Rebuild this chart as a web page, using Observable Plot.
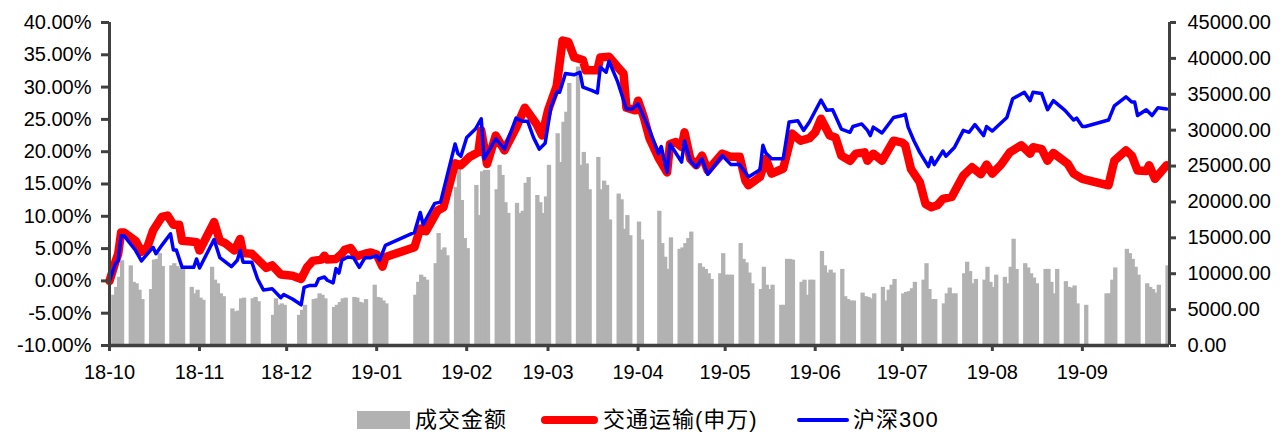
<!DOCTYPE html>
<html><head><meta charset="utf-8">
<script src="https://cdn.jsdelivr.net/npm/d3@7"></script>
<script src="https://cdn.jsdelivr.net/npm/@observablehq/plot@0.6"></script>
<style>
html,body{margin:0;padding:0;background:#fff;}
#wrap{position:relative;width:1287px;height:434px;overflow:hidden;font-family:"Liberation Sans",Arial,sans-serif;}
#legend{position:absolute;left:0;top:0;width:1287px;height:434px;pointer-events:none;font-family:"Liberation Sans","Noto Sans CJK SC",sans-serif;font-size:22px;letter-spacing:1px;color:#000;}
#legend .sw{position:absolute;}
#legend .tx{position:absolute;top:406px;line-height:28px;white-space:nowrap;}
</style>
</head><body>
<div id="wrap"><div id="chart"></div><div id="legend"></div></div>
<script>
// ---------- data ----------
const START = "2018-10-01";               // day 0 of the date axis
const END_DAY = 365;                      // axis end (days after START)
const xTickLabels = ["18-10","18-11","18-12","19-01","19-02","19-03","19-04","19-05","19-06","19-07","19-08","19-09"];
const pctTicks = [-10,-5,0,5,10,15,20,25,30,35,40];
const volTicks = [0,5000,10000,15000,20000,25000,30000,35000,40000,45000];
const seriesNames = ["成交金额","交通运输(申万)","沪深300"];

// 成交金额: one row per week (Mon..Fri), week k starts START + 7k days; null = no trading
const volByWeek = [
 [null,7000,8100,9500,11800],
 [11100,8800,8600,7700,6400],
 [7800,11900,12000,12800,11000],
 [11100,11400,11000,10700,10700],
 [8100,7200,7700,6600,6300],
 [10900,9100,8600,7200,6800],
 [5100,4700,4800,6500,6600],
 [6500,6700,6100,null,null],
 [4200,6500,5600,5800,5600],
 [null,null,4200,4900,5600],
 [6400,6500,7200,7000,6500],
 [5300,5600,6000,6500,6600],
 [6700,6600,6000,5900,6400],
 [8400,6700,6600,6200,5800],
 [],
 [7000,8800,9800,9500,9100],
 [11400,15600,13300,13600,12500],
 [22000,24800,20200,14900,13500],
 [22300,18100,24200,24400,24400],
 [21700,25100,23700,19900,18400],
 [19800,18400,18700,22600,23400],
 [20900,19900,18400,20700,25100],
 [29500,25500,31100,32500,36500],
 [38800,25100,26900,25300,21700],
 [26200,21700,22900,22300,17500],
 [21100,20300,16200,18100,15300],
 [17200,14700],
 [18700,14200,12300,10600,15000],
 [13400,13600,14200,14900,15800],
 [11400,10900,10600,10000,9200],
 [10000,12800,9800,9800,9800],
 [14200,12000,11500,10100,8600],
 [7800,10900,8400,7800,8400],
 [5600,5600,12000,12000,11900],
 [8800,9100,7000,9100,9100],
 [13100,11100,10100,10500,10100],
 [10600,6800,6400,6200,6200],
 [7300,6800,6700,6500,7200],
 [8100,6200,7700,8400,9200],
 [7200,7400,7500,7900,8800],
 [9100,11400,7800,6400,6400],
 [5800,7200,8000,7200,7200],
 [10000,11600,10300,8600,9200],
 [9100,10900,8800,8100,9800],
 [9500,8600,10900,14800,10600],
 [11400,10800,10000,9400,8600],
 [10600,10600,8800,7200,10600],
 [8900,8100,8000,8300,5800],
 [5600],
 [7200,7200,9100,10800],
 [13400,12800,12000,10900,9800],
 [8600,8100,7800,7300,8400],
 [11100]
];

// 交通运输(申万): [day after START, cumulative %]
const jtys = [[0,0],[2,2.9],[3,4.2],[4,7.5],[5,7.5],[9,6.2],[11,4.5],[13,5.2],[15,7.8],[18,9.9],[20,10.1],[22,8.7],[24,8.7],[25,6.2],[28,6.1],[30,6.0],[31,4.7],[36,9.1],[38,6.2],[40,5.8],[43,4.7],[45,6.5],[46,4.3],[49,4.2],[54,2.0],[56,2.4],[59,1.0],[63,0.8],[66,0.3],[68,2.1],[70,3.1],[73,3.3],[74,3.9],[75,3.3],[78,3.4],[80,4.2],[81,4.8],[83,5.1],[85,3.8],[88,4.2],[90,4.4],[92,4.1],[94,2.2],[95,3.7],[105,5.2],[107,8.1],[109,7.7],[113,10.9],[115,11.4],[119,18.2],[121,17.9],[124,19.2],[127,19.9],[128,23.3],[130,18.1],[133,22.5],[136,20.2],[140,23.7],[143,26.8],[147,24.3],[149,22.5],[151,26.4],[154,30.2],[156,37.2],[158,37.0],[160,34.6],[163,34.2],[164,32.6],[168,32.6],[169,34.6],[172,34.7],[175,33.1],[177,32.1],[178,26.8],[181,26.4],[182,27.9],[184,25.3],[186,22.0],[189,19.1],[192,16.8],[193,21.2],[195,21.5],[197,20.7],[198,23.0],[200,18.9],[202,17.9],[204,19.4],[206,17.1],[211,19.7],[214,19.2],[217,19.2],[219,15.5],[220,14.8],[224,16.1],[226,18.9],[228,16.6],[232,17.4],[235,22.8],[238,21.7],[241,22.1],[243,23.0],[245,25.1],[248,22.5],[250,22.2],[252,19.4],[255,18.6],[257,19.7],[260,19.9],[261,18.6],[263,19.7],[266,18.6],[270,21.7],[273,21.4],[274,21.0],[276,17.3],[279,15.3],[281,11.9],[283,11.4],[285,11.7],[287,12.7],[290,13.0],[294,16.3],[297,17.6],[300,16.5],[302,18.0],[304,16.6],[307,18.0],[310,19.9],[314,21.0],[317,19.7],[318,20.7],[321,20.4],[323,18.6],[325,19.8],[330,18.1],[332,16.6],[335,15.8],[344,14.8],[346,18.6],[350,20.2],[352,19.4],[354,17.1],[357,17.0],[358,17.9],[360,15.8],[364,17.9]];

// 沪深300: [day after START, cumulative %]
const hs300 = [[0,0],[2,2.6],[3,3.2],[4,7.0],[5,7.0],[9,4.7],[11,3.1],[14,4.7],[15,5.2],[16,4.2],[18,5.5],[21,7.3],[22,4.8],[23,4.8],[25,2.1],[29,2.1],[30,3.4],[31,2.0],[36,6.4],[38,3.6],[42,2.2],[44,3.2],[45,4.7],[46,2.9],[49,2.9],[51,0.3],[53,-1.4],[56,-1.2],[59,-2.6],[60,-2.1],[63,-2.8],[66,-3.7],[67,-1.0],[69,-0.7],[71,-0.7],[72,0.3],[74,0.6],[75,0.1],[77,-0.3],[78,1.9],[79,1.2],[80,3.2],[82,3.7],[84,3.6],[86,2.1],[88,3.6],[90,3.6],[92,3.9],[93,3.2],[95,5.5],[105,7.5],[107,10.6],[108,8.7],[112,12.0],[114,12.2],[119,21.2],[120,19.7],[121,19.3],[123,22.2],[126,23.5],[128,25.1],[129,18.9],[133,22.0],[136,20.4],[140,25.2],[142,24.7],[144,24.7],[146,22.2],[148,20.4],[150,21.3],[152,26.9],[154,29.2],[155,29.2],[157,32.1],[160,31.9],[162,32.3],[163,30.0],[166,29.5],[168,29.1],[169,33.1],[171,32.3],[172,34.0],[175,30.8],[178,26.6],[180,26.6],[182,27.4],[186,23.3],[189,19.7],[190,20.8],[192,16.8],[193,21.2],[197,18.4],[198,21.7],[200,18.6],[202,17.6],[204,18.9],[206,16.5],[211,19.4],[214,18.0],[217,18.0],[220,16.1],[224,17.2],[225,21.0],[226,19.8],[228,18.9],[232,18.9],[234,24.6],[237,24.8],[239,23.3],[241,24.6],[245,28.0],[247,26.4],[249,26.5],[252,23.5],[255,23.0],[256,23.9],[259,24.3],[261,23.3],[262,22.5],[263,23.8],[266,22.9],[270,25.3],[273,25.6],[274,25.8],[275,23.8],[277,21.7],[279,19.9],[282,17.7],[283,19.1],[284,18.0],[287,20.1],[288,19.3],[291,20.7],[294,23.3],[296,23.0],[298,24.2],[301,22.5],[302,23.9],[304,23.2],[309,25.3],[311,28.2],[315,29.2],[317,27.9],[318,29.2],[321,29.0],[323,26.5],[325,27.9],[329,26.4],[332,24.9],[333,25.2],[335,23.9],[336,23.9],[344,24.9],[346,27.1],[350,28.5],[352,27.7],[353,27.7],[354,25.6],[357,26.5],[359,25.6],[361,26.8],[364,26.6]];

// ---------- build ----------
const t0 = d3.utcParse("%Y-%m-%d")(START);
const day = d => d3.utcDay.offset(t0, d);
const PMIN = pctTicks[0], PMAX = pctTicks[pctTicks.length-1];
const VMAX = volTicks[volTicks.length-1];
const volToPct = v => PMIN + v / VMAX * (PMAX - PMIN);
const pctToVol = p => (p - PMIN) / (PMAX - PMIN) * VMAX;

const bars = [];
volByWeek.forEach((wk, k) => wk.forEach((v, i) => {
  if (v != null) bars.push({x1: day(7*k+i), x2: day(7*k+i+1), v});
}));
const jt = jtys.map(([d, v]) => ({date: day(d), v}));
const hs = hs300.map(([d, v]) => ({date: day(d), v}));
const xTicks = xTickLabels.map(s => d3.utcParse("%y-%m")(s));

const AX = "#404040";
const chart = Plot.plot({
  width: 1287, height: 395,
  marginLeft: 109, marginRight: 118, marginTop: 22, marginBottom: 50,
  x: {type: "utc", domain: [day(0), day(END_DAY)], axis: null, label: null},
  y: {domain: [PMIN, PMAX], axis: null, label: null},
  style: {fontFamily: '"Liberation Sans", Arial, sans-serif', fontSize: "20px", color: "#000", background: "#fff", overflow: "visible"},
  marks: [
    Plot.rectY(bars, {x1: "x1", x2: "x2", y1: PMIN, y2: d => volToPct(d.v), fill: "#b2b2b2", insetLeft: -0.7, insetRight: -0.7}),
    Plot.line(jt, {x: "date", y: "v", stroke: "#ff0000", strokeWidth: 8.5, strokeLinejoin: "round", strokeLinecap: "round"}),
    Plot.line(hs, {x: "date", y: "v", stroke: "#0000ff", strokeWidth: 3.5, strokeLinejoin: "round", strokeLinecap: "round"}),
    Plot.ruleX([day(0)], {stroke: AX, strokeWidth: 3}),
    Plot.ruleX([day(END_DAY)], {stroke: AX, strokeWidth: 3}),
    Plot.ruleY([PMIN], {stroke: AX, strokeWidth: 3.5}),
    Plot.axisY(pctTicks, {anchor: "left", label: null, tickSize: 8, tickPadding: 10, tickFormat: d => d.toFixed(2) + "%", stroke: AX, strokeWidth: 3, fill: "#000", fontSize: 20}),
    Plot.axisY(volTicks.map(volToPct), {anchor: "right", label: null, tickSize: 6, tickPadding: 12, tickFormat: p => pctToVol(p).toFixed(2), stroke: AX, strokeWidth: 3, fill: "#000", fontSize: 20}),
    Plot.axisX(xTicks, {anchor: "bottom", label: null, tickSize: 6, tickPadding: 13, tickFormat: d3.utcFormat("%y-%m"), stroke: AX, strokeWidth: 3, fill: "#000", fontSize: 20})
  ]
});
document.getElementById("chart").appendChild(chart);

// ---------- legend ----------
const lg = document.getElementById("legend");
const items = [
  {name: seriesNames[0], sw: {left: 357, top: 411, width: 53, height: 18, background: "#b2b2b2"}, tx: 415},
  {name: seriesNames[1], sw: {left: 541, top: 416, width: 57, height: 8, background: "#ff0000", borderRadius: "4px"}, tx: 603},
  {name: seriesNames[2], sw: {left: 797, top: 418, width: 52, height: 4, background: "#0000ff", borderRadius: "2px"}, tx: 853}
];
items.forEach(it => {
  const s = document.createElement("div"); s.className = "sw";
  Object.entries(it.sw).forEach(([k, v]) => s.style[k] = typeof v === "number" ? v + "px" : v);
  lg.appendChild(s);
  const t = document.createElement("div"); t.className = "tx"; t.style.left = it.tx + "px"; t.textContent = it.name;
  lg.appendChild(t);
});
</script>
</body></html>
